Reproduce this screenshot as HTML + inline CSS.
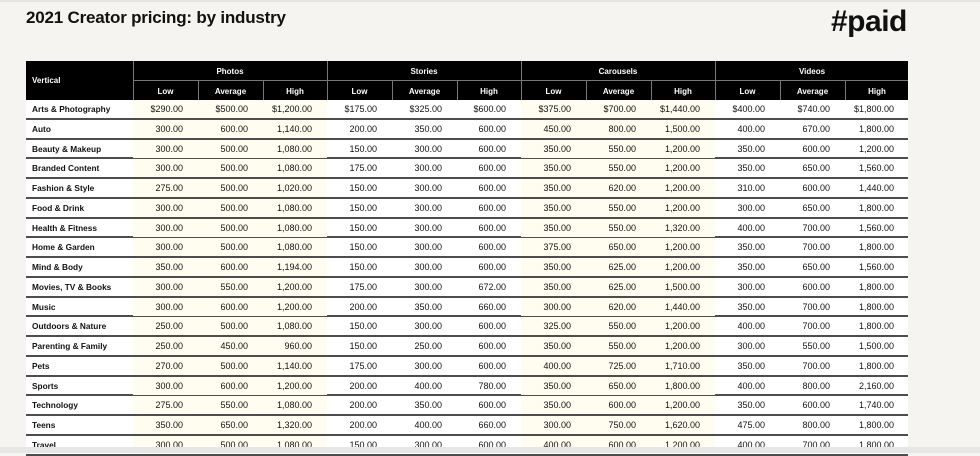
<!DOCTYPE html>
<html><head><meta charset="utf-8"><style>
*{margin:0;padding:0;box-sizing:border-box}
body{width:980px;height:453px;background:#f5f4f0;position:relative;overflow:hidden;font-family:"Liberation Sans",sans-serif;color:#111}
.top{position:absolute;left:0;top:0;width:980px;height:2px;background:#e4e4e4}
.bot{position:absolute;left:0;top:447px;width:980px;height:6px;background:#e6e6e6}
h1{position:absolute;left:26px;top:8px;font-size:17px;font-weight:bold;letter-spacing:-0.2px}
.paid{position:absolute;left:831px;top:5px;font-size:30px;font-weight:bold;letter-spacing:-0.5px}
.hd{position:absolute;left:26px;top:61px;width:882px;height:39px;background:#000;color:#fff;font-size:8px;font-weight:bold}
.hd div{position:absolute;text-align:center}
.sep{background:#777}
.row{position:absolute;left:26px;width:882px;height:19.75px;border-bottom:2px solid #4d4d4d;background:#fff;font-size:9px}
.row span{position:absolute;display:block;top:0;height:18px;line-height:19px;text-align:right;padding-right:15px}
.row span.l{left:0;width:107px;text-align:left;padding-left:6px;font-weight:bold;font-size:8.3px;line-height:19px}
.y{background:#fffdf0}
.c1{left:107px;width:65px}.c2{left:172px;width:65px}.c3{left:237px;width:64px}
.c4{left:301px;width:65px}.c5{left:366px;width:65px}.c6{left:431px;width:64px}
.c7{left:495px;width:65px}.c8{left:560px;width:65px}.c9{left:625px;width:64px}
.c10{left:689px;width:65px}.c11{left:754px;width:65px}.c12{left:819px;width:64px}
</style></head><body>
<div class="top"></div>
<h1>2021 Creator pricing: by industry</h1>
<div class="paid">#paid</div>
<div class="hd">
<div style="left:6px;top:15px;text-align:left">Vertical</div>
<div class="sep" style="left:107px;top:0;width:1px;height:39px"></div>
<div class="sep" style="left:301px;top:0;width:1px;height:39px"></div>
<div class="sep" style="left:495px;top:0;width:1px;height:39px"></div>
<div class="sep" style="left:689px;top:0;width:1px;height:39px"></div>
<div class="sep" style="left:107px;top:19px;width:775px;height:1px"></div>
<div class="sep" style="left:172px;top:19px;width:1px;height:20px"></div>
<div class="sep" style="left:237px;top:19px;width:1px;height:20px"></div>
<div class="sep" style="left:366px;top:19px;width:1px;height:20px"></div>
<div class="sep" style="left:431px;top:19px;width:1px;height:20px"></div>
<div class="sep" style="left:560px;top:19px;width:1px;height:20px"></div>
<div class="sep" style="left:625px;top:19px;width:1px;height:20px"></div>
<div class="sep" style="left:754px;top:19px;width:1px;height:20px"></div>
<div class="sep" style="left:819px;top:19px;width:1px;height:20px"></div>
<div style="left:107px;width:194px;top:6px">Photos</div>
<div style="left:301px;width:194px;top:6px">Stories</div>
<div style="left:495px;width:194px;top:6px">Carousels</div>
<div style="left:689px;width:194px;top:6px">Videos</div>
<div style="left:107px;width:65px;top:26px">Low</div><div style="left:172px;width:65px;top:26px">Average</div><div style="left:237px;width:64px;top:26px">High</div>
<div style="left:301px;width:65px;top:26px">Low</div><div style="left:366px;width:65px;top:26px">Average</div><div style="left:431px;width:64px;top:26px">High</div>
<div style="left:495px;width:65px;top:26px">Low</div><div style="left:560px;width:65px;top:26px">Average</div><div style="left:625px;width:64px;top:26px">High</div>
<div style="left:689px;width:65px;top:26px">Low</div><div style="left:754px;width:65px;top:26px">Average</div><div style="left:819px;width:64px;top:26px">High</div>
</div>

<div class="row" style="top:100px"><span class="l">Arts &amp; Photography</span><span class="y c1">$290.00</span><span class="y c2">$500.00</span><span class="y c3">$1,200.00</span><span class="c4">$175.00</span><span class="c5">$325.00</span><span class="c6">$600.00</span><span class="y c7">$375.00</span><span class="y c8">$700.00</span><span class="y c9">$1,440.00</span><span class="c10">$400.00</span><span class="c11">$740.00</span><span class="c12">$1,800.00</span></div>
<div class="row" style="top:119.75px"><span class="l">Auto</span><span class="y c1">300.00</span><span class="y c2">600.00</span><span class="y c3">1,140.00</span><span class="c4">200.00</span><span class="c5">350.00</span><span class="c6">600.00</span><span class="y c7">450.00</span><span class="y c8">800.00</span><span class="y c9">1,500.00</span><span class="c10">400.00</span><span class="c11">670.00</span><span class="c12">1,800.00</span></div>
<div class="row" style="top:139.5px"><span class="l">Beauty &amp; Makeup</span><span class="y c1">300.00</span><span class="y c2">500.00</span><span class="y c3">1,080.00</span><span class="c4">150.00</span><span class="c5">300.00</span><span class="c6">600.00</span><span class="y c7">350.00</span><span class="y c8">550.00</span><span class="y c9">1,200.00</span><span class="c10">350.00</span><span class="c11">600.00</span><span class="c12">1,200.00</span></div>
<div class="row" style="top:159.25px"><span class="l">Branded Content</span><span class="y c1">300.00</span><span class="y c2">500.00</span><span class="y c3">1,080.00</span><span class="c4">175.00</span><span class="c5">300.00</span><span class="c6">600.00</span><span class="y c7">350.00</span><span class="y c8">550.00</span><span class="y c9">1,200.00</span><span class="c10">350.00</span><span class="c11">650.00</span><span class="c12">1,560.00</span></div>
<div class="row" style="top:179px"><span class="l">Fashion &amp; Style</span><span class="y c1">275.00</span><span class="y c2">500.00</span><span class="y c3">1,020.00</span><span class="c4">150.00</span><span class="c5">300.00</span><span class="c6">600.00</span><span class="y c7">350.00</span><span class="y c8">620.00</span><span class="y c9">1,200.00</span><span class="c10">310.00</span><span class="c11">600.00</span><span class="c12">1,440.00</span></div>
<div class="row" style="top:198.75px"><span class="l">Food &amp; Drink</span><span class="y c1">300.00</span><span class="y c2">500.00</span><span class="y c3">1,080.00</span><span class="c4">150.00</span><span class="c5">300.00</span><span class="c6">600.00</span><span class="y c7">350.00</span><span class="y c8">550.00</span><span class="y c9">1,200.00</span><span class="c10">300.00</span><span class="c11">650.00</span><span class="c12">1,800.00</span></div>
<div class="row" style="top:218.5px"><span class="l">Health &amp; Fitness</span><span class="y c1">300.00</span><span class="y c2">500.00</span><span class="y c3">1,080.00</span><span class="c4">150.00</span><span class="c5">300.00</span><span class="c6">600.00</span><span class="y c7">350.00</span><span class="y c8">550.00</span><span class="y c9">1,320.00</span><span class="c10">400.00</span><span class="c11">700.00</span><span class="c12">1,560.00</span></div>
<div class="row" style="top:238.25px"><span class="l">Home &amp; Garden</span><span class="y c1">300.00</span><span class="y c2">500.00</span><span class="y c3">1,080.00</span><span class="c4">150.00</span><span class="c5">300.00</span><span class="c6">600.00</span><span class="y c7">375.00</span><span class="y c8">650.00</span><span class="y c9">1,200.00</span><span class="c10">350.00</span><span class="c11">700.00</span><span class="c12">1,800.00</span></div>
<div class="row" style="top:258px"><span class="l">Mind &amp; Body</span><span class="y c1">350.00</span><span class="y c2">600.00</span><span class="y c3">1,194.00</span><span class="c4">150.00</span><span class="c5">300.00</span><span class="c6">600.00</span><span class="y c7">350.00</span><span class="y c8">625.00</span><span class="y c9">1,200.00</span><span class="c10">350.00</span><span class="c11">650.00</span><span class="c12">1,560.00</span></div>
<div class="row" style="top:277.75px"><span class="l">Movies, TV &amp; Books</span><span class="y c1">300.00</span><span class="y c2">550.00</span><span class="y c3">1,200.00</span><span class="c4">175.00</span><span class="c5">300.00</span><span class="c6">672.00</span><span class="y c7">350.00</span><span class="y c8">625.00</span><span class="y c9">1,500.00</span><span class="c10">300.00</span><span class="c11">600.00</span><span class="c12">1,800.00</span></div>
<div class="row" style="top:297.5px"><span class="l">Music</span><span class="y c1">300.00</span><span class="y c2">600.00</span><span class="y c3">1,200.00</span><span class="c4">200.00</span><span class="c5">350.00</span><span class="c6">660.00</span><span class="y c7">300.00</span><span class="y c8">620.00</span><span class="y c9">1,440.00</span><span class="c10">350.00</span><span class="c11">700.00</span><span class="c12">1,800.00</span></div>
<div class="row" style="top:317.25px"><span class="l">Outdoors &amp; Nature</span><span class="y c1">250.00</span><span class="y c2">500.00</span><span class="y c3">1,080.00</span><span class="c4">150.00</span><span class="c5">300.00</span><span class="c6">600.00</span><span class="y c7">325.00</span><span class="y c8">550.00</span><span class="y c9">1,200.00</span><span class="c10">400.00</span><span class="c11">700.00</span><span class="c12">1,800.00</span></div>
<div class="row" style="top:337px"><span class="l">Parenting &amp; Family</span><span class="y c1">250.00</span><span class="y c2">450.00</span><span class="y c3">960.00</span><span class="c4">150.00</span><span class="c5">250.00</span><span class="c6">600.00</span><span class="y c7">350.00</span><span class="y c8">550.00</span><span class="y c9">1,200.00</span><span class="c10">300.00</span><span class="c11">550.00</span><span class="c12">1,500.00</span></div>
<div class="row" style="top:356.75px"><span class="l">Pets</span><span class="y c1">270.00</span><span class="y c2">500.00</span><span class="y c3">1,140.00</span><span class="c4">175.00</span><span class="c5">300.00</span><span class="c6">600.00</span><span class="y c7">400.00</span><span class="y c8">725.00</span><span class="y c9">1,710.00</span><span class="c10">350.00</span><span class="c11">700.00</span><span class="c12">1,800.00</span></div>
<div class="row" style="top:376.5px"><span class="l">Sports</span><span class="y c1">300.00</span><span class="y c2">600.00</span><span class="y c3">1,200.00</span><span class="c4">200.00</span><span class="c5">400.00</span><span class="c6">780.00</span><span class="y c7">350.00</span><span class="y c8">650.00</span><span class="y c9">1,800.00</span><span class="c10">400.00</span><span class="c11">800.00</span><span class="c12">2,160.00</span></div>
<div class="row" style="top:396.25px"><span class="l">Technology</span><span class="y c1">275.00</span><span class="y c2">550.00</span><span class="y c3">1,080.00</span><span class="c4">200.00</span><span class="c5">350.00</span><span class="c6">600.00</span><span class="y c7">350.00</span><span class="y c8">600.00</span><span class="y c9">1,200.00</span><span class="c10">350.00</span><span class="c11">600.00</span><span class="c12">1,740.00</span></div>
<div class="row" style="top:416px"><span class="l">Teens</span><span class="y c1">350.00</span><span class="y c2">650.00</span><span class="y c3">1,320.00</span><span class="c4">200.00</span><span class="c5">400.00</span><span class="c6">660.00</span><span class="y c7">300.00</span><span class="y c8">750.00</span><span class="y c9">1,620.00</span><span class="c10">475.00</span><span class="c11">800.00</span><span class="c12">1,800.00</span></div>
<div class="row" style="top:435.75px"><span class="l">Travel</span><span class="y c1">300.00</span><span class="y c2">500.00</span><span class="y c3">1,080.00</span><span class="c4">150.00</span><span class="c5">300.00</span><span class="c6">600.00</span><span class="y c7">400.00</span><span class="y c8">600.00</span><span class="y c9">1,200.00</span><span class="c10">400.00</span><span class="c11">700.00</span><span class="c12">1,800.00</span></div>
<div class="bot"></div>
</body></html>
